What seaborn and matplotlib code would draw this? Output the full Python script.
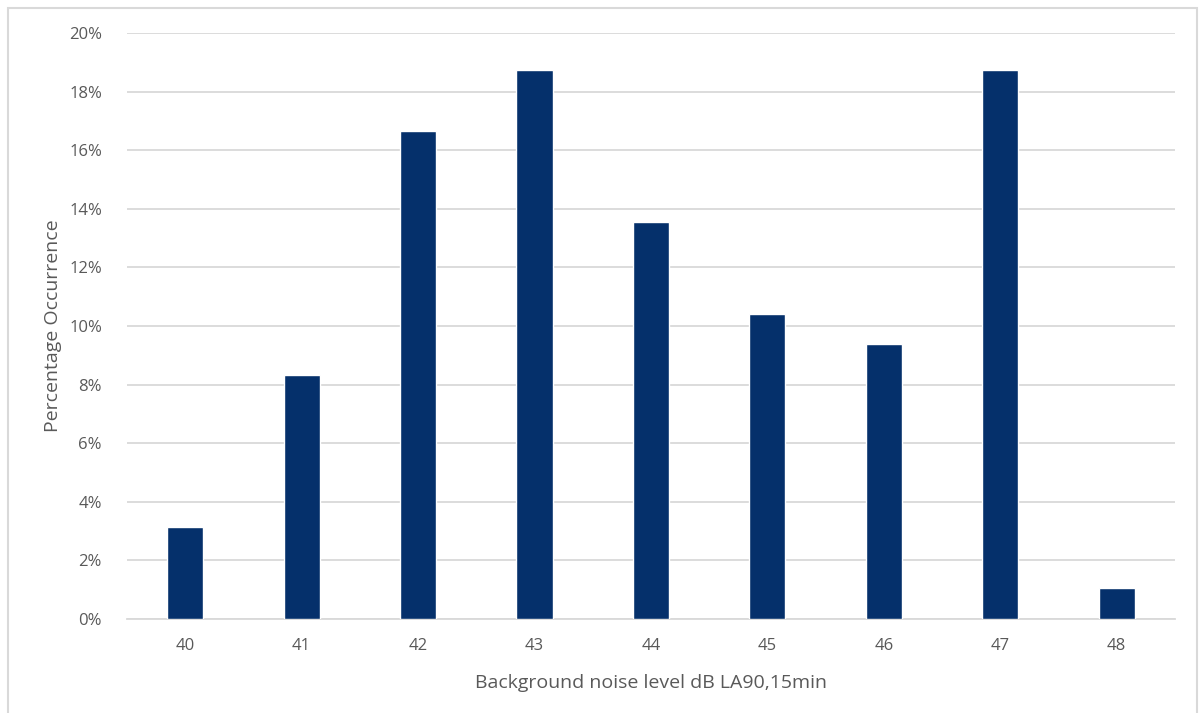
import matplotlib
matplotlib.use("Agg")
import matplotlib.pyplot as plt
from matplotlib.patches import Rectangle
from matplotlib.ticker import PercentFormatter
import seaborn as sns
import pandas as pd

# noise level bins and share of samples
levels = ["40", "41", "42", "43", "44", "45", "46", "47", "48"]
share = [3.125, 8.333, 16.667, 18.75, 13.542, 10.417, 9.375, 18.75, 1.042]

df = pd.DataFrame({"level": levels, "share": share})

sns.set_style("white")
plt.rcParams["font.family"] = ["Open Sans", "DejaVu Sans"]

fig = plt.figure(figsize=(12, 7.13), dpi=100)
ax = fig.add_axes([0.1058, 0.1318, 0.8733, 0.8219])

sns.barplot(data=df, x="level", y="share", color="#05306B", width=0.31,
            saturation=1, ax=ax, zorder=3)

ax.set_xlim(-0.5, 8.5)
ax.set_ylim(0, 20)
ax.set_yticks(range(0, 21, 2))
ax.yaxis.set_major_formatter(PercentFormatter(decimals=0))
ax.grid(axis="y", color="#D9D9D9", linewidth=1.3, zorder=0)
for s in ["top", "right", "left"]:
    ax.spines[s].set_visible(False)
ax.spines["bottom"].set_color("#D9D9D9")
ax.spines["bottom"].set_linewidth(1.3)
ax.tick_params(length=0, labelsize=12, labelcolor="#595959", pad=14)
ax.tick_params(axis="y", pad=18)

ax.set_xlabel("Background noise level dB LA90,15min", fontsize=14, color="#595959", labelpad=14)
ax.set_ylabel("Percentage Occurrence", fontsize=14, color="#595959", labelpad=5)

fig.patches.append(Rectangle((8 / 1200, -0.05), 1189 / 1200, 1 - 8 / 713 + 0.05,
                             transform=fig.transFigure, fill=False,
                             edgecolor="#D9D9D9", linewidth=1.5))

fig.savefig("out.png", dpi=100)
